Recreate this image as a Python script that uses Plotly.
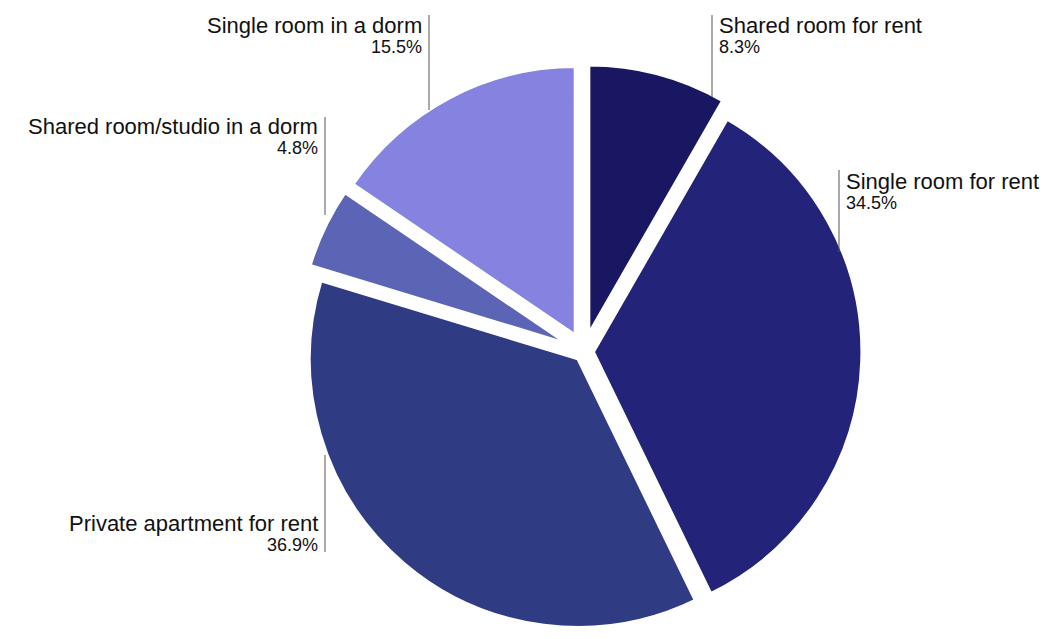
import plotly.graph_objects as go

# Housing type shares (%), clockwise from 12 o'clock
categories = [
    "Shared room for rent",
    "Single room for rent",
    "Private apartment for rent",
    "Shared room/studio in a dorm",
    "Single room in a dorm",
]
shares = [8.3, 34.5, 36.9, 4.8, 15.5]

W, H = 1053, 639

slice_colors = ["#1a1762", "#23237a", "#2f3b82", "#5c64b6", "#8582e0"]
slice_pulls = [0.07, 0.035, 0.035, 0.07, 0.07]

# Label layout in pixels: leader line x, its top/bottom, text side, title/percent centres
label_layout = {
    "Shared room for rent": dict(x=712, top=15, bottom=97, side="right", ty=25, py=47),
    "Single room for rent": dict(x=839, top=170, bottom=252, side="right", ty=181, py=203),
    "Private apartment for rent": dict(x=325, top=455, bottom=552, side="left", ty=523, py=545),
    "Shared room/studio in a dorm": dict(x=325, top=117, bottom=215, side="left", ty=127, py=148),
    "Single room in a dorm": dict(x=429, top=15, bottom=110, side="left", ty=25, py=47),
}

FONT = "Liberation Sans, Arial, Helvetica, sans-serif"


def px(x):
    return x / W


def py(y):
    return 1 - y / H


fig = go.Figure(
    go.Pie(
        labels=categories,
        values=shares,
        sort=False,
        direction="clockwise",
        rotation=0,
        pull=slice_pulls,
        marker=dict(colors=slice_colors, line=dict(color="white", width=3)),
        textinfo="none",
        hoverinfo="label+percent",
        showlegend=False,
        domain=dict(x=[0.2546, 0.8546], y=[0.0, 0.8992]),
    )
)

annotations = []
shapes = []
for name, value in zip(categories, shares):
    pos = label_layout[name]
    shapes.append(
        dict(
            type="line",
            xref="paper",
            yref="paper",
            x0=px(pos["x"]),
            x1=px(pos["x"]),
            y0=py(pos["top"]),
            y1=py(pos["bottom"]),
            line=dict(color="#555555", width=1),
        )
    )
    if pos["side"] == "right":
        tx, anchor = pos["x"] + 5, "left"
    else:
        tx, anchor = pos["x"] - 5, "right"
    annotations.append(
        dict(
            x=px(tx), y=py(pos["ty"]), xref="paper", yref="paper",
            text=name, showarrow=False, xanchor=anchor, yanchor="middle",
            font=dict(family=FONT, size=22, color="#111111"),
        )
    )
    annotations.append(
        dict(
            x=px(tx), y=py(pos["py"]), xref="paper", yref="paper",
            text=f"{value}%", showarrow=False, xanchor=anchor, yanchor="middle",
            font=dict(family=FONT, size=18, color="#111111"),
        )
    )

fig.update_layout(
    width=W,
    height=H,
    margin=dict(l=0, r=0, t=0, b=0),
    paper_bgcolor="white",
    plot_bgcolor="white",
    annotations=annotations,
    shapes=shapes,
)

fig.write_html("out.html")
